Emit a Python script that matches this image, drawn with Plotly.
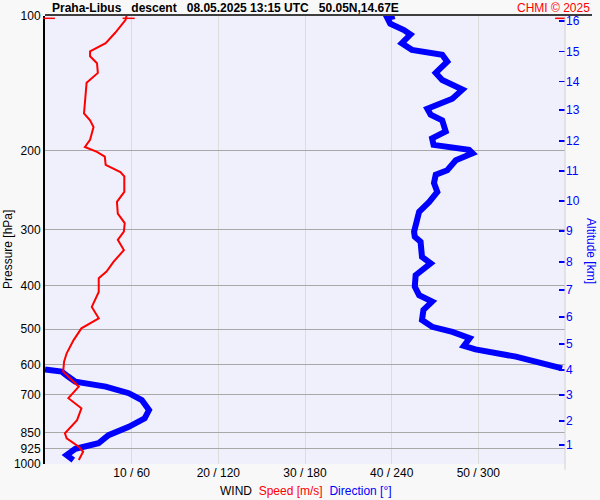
import plotly.graph_objects as go

# ---- data ----
speed_p = [980, 939, 915, 876, 854, 798, 751, 713, 672, 649, 622, 591, 566, 529, 498, 473,
           446, 413, 385, 372, 354, 333, 316, 303, 290, 276, 260, 247, 228, 223, 215, 206,
           201, 196, 189, 177, 171, 165, 154, 141, 134, 127.5, 123, 120, 115, 109, 102, 100]
speed_ms = [3.9, 4.4, 3.9, 2.5, 2.3, 3.7, 4.2, 2.7, 3.9, 3.1, 2.1, 2.2, 2.5, 3.3, 4.2, 6.2,
            5.4, 6.2, 6.2, 7.1, 7.9, 9.1, 8.4, 9.1, 9.2, 8.4, 8.3, 9.15, 9.15, 8.7, 7.0, 6.9,
            6.0, 4.6, 5.2, 5.6, 5.2, 4.5, 4.6, 4.8, 6.1, 6.0, 5.2, 5.2, 7.0, 8.1, 9.3, 9.4]

dir_p = [980, 955, 925, 912, 899, 862, 826, 791, 758, 720, 695, 672, 660, 655, 638, 622, 615,
         None,
         611.5, 576, 555, 545, 524, 507, 494, 477, 453, 434, 420, 402, 379, 356.5, 345, 319,
         311, 303, 290, 273.5, 260, 247, 236, 226, 221, 210, 202.5, 199, 194, 187.5, 181,
         171, 166, 161, 153, 146, 139, 134, 126.5, 122, 119, 115, 110, 107.5, 104, 101, 100]
dir_deg = [19.6, 15, 21, 28, 37, 44, 58, 69, 72, 67, 58, 42, 28, 21, 16, 11.5, 0,
           None,
           358, 326, 298, 290, 294, 282, 268, 261, 262, 268, 259, 256, 256.6, 267, 261, 260,
           256, 255.5, 257, 259, 266, 271.6, 269.3, 270.5, 278.5, 284.4, 296, 293.6, 269, 268,
           277.4, 275, 267, 264.7, 282, 289, 275, 270.5, 278.5, 275, 254, 247, 253, 248.5,
           239, 237, 242]

p_levels = [100, 200, 300, 400, 500, 600, 700, 850, 925, 1000]
x_ticks = [10, 20, 30, 40, 50]
x_ticktext = ["10 / 60", "20 / 120", "30 / 180", "40 / 240", "50 / 300"]
alt_km = list(range(1, 17))
alt_p = [907, 802, 702, 617, 540, 470, 409, 354, 302, 259, 222, 190, 162, 140, 120, 102.6]

FONT = "Liberation Sans, Arial, sans-serif"
RED = "#ff0000"
BLUE = "#0000ff"
BG = "#f8f8f8"

fig = go.Figure()

# direction (x scaled 0..360 -> 0..60)
fig.add_trace(go.Scatter(
    x=[d / 6 if d is not None else None for d in dir_deg], y=dir_p,
    mode="lines", line=dict(color=BLUE, width=6), connectgaps=False,
    hoverinfo="skip", showlegend=False))
fig.add_trace(go.Scatter(
    x=speed_ms, y=speed_p, mode="lines", line=dict(color=RED, width=2),
    hoverinfo="skip", showlegend=False))
# invisible trace for altitude axis
fig.add_trace(go.Scatter(x=[None], y=[None], yaxis="y2", showlegend=False, hoverinfo="skip"))

# max wind speed marker
imax = max(range(len(speed_ms)), key=lambda i: speed_ms[i])
smax, pmax = speed_ms[imax], speed_p[imax]
pmark = pmax * 1.012
shapes = [
    dict(type="line", xref="x", yref="y", x0=smax - 0.45, x1=smax + 0.95, y0=pmark, y1=pmark,
         line=dict(color=RED, width=1.5)),
    dict(type="line", xref="paper", yref="y", x0=-0.004, x1=0.019, y0=pmark, y1=pmark,
         line=dict(color=RED, width=1.5)),
    dict(type="line", xref="paper", yref="y", x0=0.981, x1=1.0, y0=pmark, y1=pmark,
         line=dict(color=RED, width=1.5)),
    # right frame edge
    dict(type="line", xref="paper", yref="paper", x0=1, x1=1, y0=-0.013, y1=1,
         line=dict(color="#d0d0d0", width=1)),
    # top frame line
    dict(type="line", xref="paper", yref="paper", x0=0, x1=1.052, y0=1.002, y1=1.002,
         line=dict(color="black", width=1.5)),
]

annotations = [
    dict(x=smax + 1.0, y=pmark, xref="x", yref="y", text="MXWS", showarrow=False,
         xanchor="left", yanchor="middle", xshift=2, font=dict(family=FONT, size=11, color=RED)),
    dict(x=(50 - 45) / 520, y=1, xref="paper", yref="paper", yshift=8,
         text="<b>Praha-Libus   descent   08.05.2025 13:15 UTC   50.05N,14.67E</b>",
         showarrow=False, xanchor="left", yanchor="middle",
         font=dict(family=FONT, size=12, color="black")),
    dict(x=(592 - 45) / 520, y=1, xref="paper", yref="paper", yshift=8,
         text="CHMI © 2025", showarrow=False, xanchor="right", yanchor="middle",
         font=dict(family=FONT, size=12, color=RED)),
    dict(x=(306 - 45) / 520, y=0, xref="paper", yref="paper", yshift=-27,
         text="WIND  <span style='color:#ff0000'>Speed [m/s]</span>  "
              "<span style='color:#0000ff'>Direction [°]</span>",
         showarrow=False, xanchor="center", yanchor="middle",
         font=dict(family=FONT, size=12, color="black")),
    dict(x=(8 - 45) / 520, y=(464 - 250) / 448, xref="paper", yref="paper",
         text="Pressure [hPa]", textangle=-90, showarrow=False,
         xanchor="center", yanchor="middle", font=dict(family=FONT, size=12, color="black")),
    dict(x=(591 - 45) / 520, y=(464 - 251) / 448, xref="paper", yref="paper",
         text="Altitude [km]", textangle=90, showarrow=False,
         xanchor="center", yanchor="middle", font=dict(family=FONT, size=12, color=BLUE)),
]

fig.update_layout(
    width=600, height=500, autosize=False,
    margin=dict(l=45, r=35, t=16, b=36, pad=0),
    paper_bgcolor=BG, plot_bgcolor="#f0f0fc",
    font=dict(family=FONT, size=12, color="black"),
    hovermode=False,
    xaxis=dict(range=[0, 60], tickvals=x_ticks, ticktext=x_ticktext, showgrid=True,
               gridcolor="#dcdcdc", gridwidth=1, zeroline=False, showline=False, ticks="",
               automargin=False, tickfont=dict(size=12, color="black"), fixedrange=True),
    yaxis=dict(type="log", range=[3, 2], tickvals=p_levels, ticktext=[str(v) for v in p_levels],
               showgrid=True, gridcolor="#a8a8a8", gridwidth=1, zeroline=False,
               showline=True, linecolor="black", linewidth=2, ticks="", automargin=False,
               tickfont=dict(size=12, color="black")),
    yaxis2=dict(type="log", range=[3, 2], overlaying="y", side="right", anchor="x",
                tickvals=alt_p, ticktext=[str(a) for a in alt_km], showgrid=False,
                zeroline=False, showline=False, ticks="inside", ticklen=6, tickwidth=1.5,
                automargin=False, tickcolor=BLUE, tickfont=dict(size=12, color=BLUE)),
    shapes=shapes, annotations=annotations,
)

fig.write_html("out.html",
               config={"displayModeBar": False, "staticPlot": True},
               post_script="document.body.style.margin='0';"
                           "document.body.style.background='%s';" % BG)
